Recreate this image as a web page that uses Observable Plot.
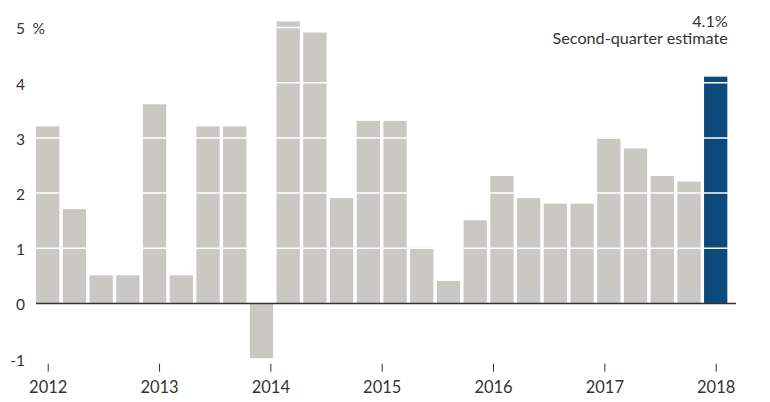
<!DOCTYPE html>
<html>
<head>
<meta charset="utf-8">
<script src="https://cdn.jsdelivr.net/npm/d3@7"></script>
<script src="https://cdn.jsdelivr.net/npm/@observablehq/plot@0.6"></script>
<style>
  html, body { margin: 0; padding: 0; background: #fff; }
  #chart { width: 770px; height: 402px; }
  svg { font-family: Lato, "Open Sans", sans-serif; }
</style>
</head>
<body>
<div id="chart"></div>
<script>
// Quarterly GDP growth, annualized %, 2012 Q1 – 2018 Q2
const quarters = ["2012Q1","2012Q2","2012Q3","2012Q4","2013Q1","2013Q2","2013Q3","2013Q4",
  "2014Q1","2014Q2","2014Q3","2014Q4","2015Q1","2015Q2","2015Q3","2015Q4",
  "2016Q1","2016Q2","2016Q3","2016Q4","2017Q1","2017Q2","2017Q3","2017Q4",
  "2018Q1","2018Q2"];
const growth = [3.2, 1.7, 0.5, 0.5, 3.6, 0.5, 3.2, 3.2,
  -1.0, 5.1, 4.9, 1.9, 3.3, 3.3, 1.0, 0.4,
  1.5, 2.3, 1.9, 1.8, 1.8, 3.0, 2.8, 2.3,
  2.2, 4.1];
const years = [2012, 2013, 2014, 2015, 2016, 2017, 2018];
const yTicks = [-1, 0, 1, 2, 3, 4, 5];
const estimateLabel = "4.1%";
const estimateNote = "Second-quarter estimate";

const data = quarters.map((q, i) => ({q, i, v: growth[i], estimate: i === quarters.length - 1}));
const last = quarters.length - 1;
const half = 0.436;
// year axis spans from the first quarter's centre to the last quarter's centre
const yearPos = y => (y - years[0]) * last / (years[years.length - 1] - years[0]);
const yearAt = p => String(years[Math.round(p * (years.length - 1) / last)]);

const textColor = "#333";
const chart = Plot.plot({
  width: 770,
  height: 402,
  marginLeft: 36,
  marginRight: 34,
  marginTop: 27,
  marginBottom: 38.3,
  x: {domain: [-0.438, 25.76], axis: null},
  y: {domain: [-1.1, 5], axis: null},
  style: {fontFamily: "Lato, 'Open Sans', sans-serif", color: textColor, background: "#fff"},
  marks: [
    Plot.rectY(data, {
      x1: d => d.i - half, x2: d => d.i + half, y1: 0, y2: "v",
      fill: d => d.estimate ? "#0b4a7b" : "#c9c8c3"
    }),
    Plot.ruleY([1, 2, 3, 4, 5], {stroke: "#fff", strokeWidth: 1.5}),
    Plot.ruleY([0], {stroke: "#333", strokeWidth: 1.5}),
    Plot.axisY({ticks: yTicks, label: null, tickSize: 0, tickPadding: 11.5, fontSize: 15.5, dy: 2, textAnchor: "end", tickFormat: d => String(d), fill: textColor}),
    Plot.text(["%"], {y: () => 5, frameAnchor: "left", dx: -4, dy: 2, textAnchor: "start", fontSize: 15.5, fill: textColor}),
    Plot.axisX({ticks: years.map(yearPos), label: null, tickFormat: yearAt, tickSize: 8, tickPadding: 9, fontSize: 16.5, stroke: "#333", fill: textColor}),
    Plot.text([`${estimateLabel}\n${estimateNote}`], {x: () => last, frameAnchor: "top", dx: 11.6, dy: 2.5, lineAnchor: "middle", lineHeight: 1.07, textAnchor: "end", fontSize: 16.2, fill: textColor})
  ]
});
document.getElementById("chart").appendChild(chart);
</script>
</body>
</html>
